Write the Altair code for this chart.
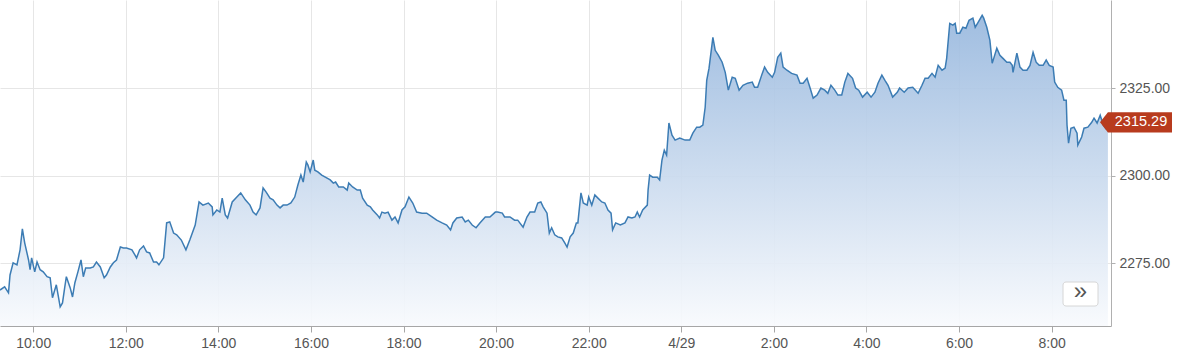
import altair as alt
import pandas as pd

# minutes after 2024-04-28 09:17 (chart window = 24 hours)
minutes = [
    0, 6, 11, 13, 17, 22, 26, 29, 32, 37, 39, 41, 45, 48, 52, 56, 61, 65, 68, 73,
    78, 81, 84, 86, 91, 94, 97, 101, 105, 108, 111, 117, 121, 125, 130, 135, 138, 143, 147, 151,
    156, 160, 164, 171, 175, 177, 181, 186, 190, 194, 199, 203, 206, 212, 216, 220, 225, 229, 235, 241,
    246, 253, 258, 263, 270, 275, 276, 281, 285, 288, 292, 295, 301, 307, 312, 318, 324, 328, 332, 337,
    341, 345, 350, 354, 359, 363, 367, 372, 377, 382, 386, 390, 393, 397, 399, 402, 406, 408, 412, 417,
    424, 428, 432, 435, 439, 445, 450, 452, 457, 463, 467, 470, 476, 480, 483, 489, 492, 495, 499, 503,
    508, 512, 516, 521, 525, 530, 535, 540, 547, 553, 560, 566, 573, 579, 584, 587, 592, 599, 603, 607,
    612, 617, 622, 629, 635, 642, 645, 651, 654, 661, 667, 671, 678, 683, 687, 693, 697, 701, 704, 709,
    712, 715, 719, 723, 728, 732, 735, 739, 743, 747, 749, 753, 756, 761, 763, 767, 771, 775, 780, 784,
    788, 792, 794, 798, 804, 810, 814, 819, 823, 826, 829, 833, 839, 840, 842, 846, 852, 855, 858, 861,
    864, 867, 871, 875, 881, 888, 894, 898, 903, 907, 911, 914, 916, 919, 924, 927, 931, 936, 940, 944,
    949, 953, 958, 963, 969, 975, 978, 982, 988, 991, 995, 1001, 1004, 1008, 1012, 1015, 1020, 1026, 1033, 1037,
    1041, 1046, 1050, 1054, 1059, 1064, 1069, 1073, 1077, 1082, 1086, 1091, 1095, 1099, 1105, 1109, 1113, 1118, 1124, 1129,
    1134, 1138, 1143, 1147, 1151, 1157, 1163, 1166, 1172, 1177, 1183, 1190, 1195, 1199, 1203, 1208, 1212, 1216, 1221, 1225,
    1227, 1231, 1235, 1238, 1240, 1244, 1248, 1252, 1256, 1261, 1264, 1267, 1273, 1275, 1279, 1283, 1286, 1288, 1292, 1296,
    1300, 1305, 1309, 1312, 1313, 1318, 1322, 1326, 1331, 1335, 1339, 1343, 1347, 1352, 1356, 1360, 1365, 1367, 1371, 1376,
    1379, 1382, 1383, 1385, 1388, 1392, 1396, 1397, 1402, 1405, 1410, 1415, 1418, 1422, 1426, 1430, 1433, 1436,
]

prices = [
    2267.3, 2268.2, 2266.5, 2271.6, 2275.1, 2274.5, 2278.8, 2284.8, 2280.8, 2275.9, 2273.1, 2276.5, 2272.5, 2275.3, 2273.1, 2272.5, 2271.1, 2270.8, 2265.1, 2268.8,
    2262.5, 2263.6, 2268.2, 2271.1, 2267.9, 2265.3, 2269.3, 2272.5, 2275.9, 2271.1, 2273.6, 2273.6, 2273.9, 2275.3, 2273.9, 2270.8, 2271.6, 2273.9, 2275.1, 2275.9,
    2279.6, 2279.3, 2279.3, 2278.8, 2277.3, 2276.5, 2278.8, 2279.9, 2278.2, 2277.9, 2275.3, 2275.3, 2274.5, 2276.5, 2286.5, 2286.8, 2283.6, 2283.1, 2281.6, 2278.8,
    2281.6, 2285.9, 2292.5, 2291.6, 2292.2, 2291.1, 2288.8, 2290.2, 2289.6, 2293.6, 2288.8, 2287.9, 2292.5, 2293.9, 2295.1, 2293.1, 2291.6, 2289.6, 2288.8, 2290.8,
    2296.5, 2295.3, 2293.6, 2293.1, 2291.6, 2290.8, 2291.6, 2291.6, 2292.2, 2293.9, 2297.3, 2300.2, 2298.2, 2303.9, 2303.1, 2301.1, 2304.5, 2301.6, 2301.1, 2300.2,
    2299.3, 2298.8, 2297.9, 2298.2, 2296.8, 2296.8, 2295.9, 2297.9, 2296.8, 2295.9, 2295.9, 2293.6, 2291.6, 2291.1, 2290.2, 2288.8, 2287.9, 2289.6, 2289.3, 2289.6,
    2287.3, 2288.2, 2286.5, 2290.2, 2291.1, 2293.9, 2292.2, 2289.6, 2289.3, 2289.3, 2288.2, 2287.3, 2286.5, 2285.9, 2284.5, 2286.5, 2287.9, 2288.2, 2286.8, 2287.3,
    2285.9, 2285.1, 2286.5, 2288.2, 2288.2, 2289.6, 2289.6, 2289.3, 2288.2, 2288.2, 2287.3, 2287.3, 2285.3, 2288.2, 2289.6, 2289.6, 2292.2, 2292.5, 2291.1, 2289.3,
    2283.6, 2285.1, 2283.1, 2282.5, 2282.2, 2280.8, 2279.6, 2282.5, 2283.6, 2286.5, 2286.5, 2295.1, 2292.2, 2291.6, 2293.9, 2291.6, 2294.5, 2293.6, 2292.5, 2292.2,
    2290.2, 2289.3, 2284.5, 2286.5, 2285.9, 2286.5, 2288.2, 2287.9, 2288.2, 2289.6, 2288.2, 2290.2, 2291.6, 2295.9, 2300.2, 2299.6, 2299.6, 2298.8, 2304.5, 2307.3,
    2305.9, 2315.1, 2311.6, 2310.2, 2310.8, 2310.2, 2310.2, 2312.2, 2313.9, 2313.9, 2314.5, 2319.6, 2327.3, 2330.8, 2339.6, 2335.9, 2334.5, 2332.5, 2329.6, 2324.5,
    2328.2, 2327.9, 2324.5, 2325.9, 2326.5, 2326.8, 2325.3, 2325.3, 2329.3, 2331.1, 2329.6, 2328.2, 2329.6, 2333.9, 2335.1, 2331.1, 2330.2, 2329.3, 2328.8, 2326.5,
    2326.5, 2327.9, 2325.1, 2322.2, 2323.1, 2325.1, 2324.5, 2323.6, 2325.9, 2324.5, 2323.1, 2323.1, 2326.8, 2329.3, 2327.9, 2325.1, 2324.5, 2322.5, 2323.9, 2322.5,
    2323.9, 2326.5, 2328.8, 2327.3, 2325.9, 2322.5, 2323.9, 2325.1, 2323.9, 2325.1, 2325.3, 2323.6, 2325.9, 2327.9, 2327.9, 2329.3, 2328.2, 2331.6, 2330.2, 2330.8,
    2333.6, 2343.6, 2343.1, 2343.6, 2340.8, 2340.8, 2342.5, 2342.2, 2344.5, 2345.1, 2342.5, 2343.6, 2345.9, 2345.1, 2342.5, 2338.8, 2332.2, 2333.6, 2336.5, 2334.5,
    2333.6, 2332.5, 2332.5, 2331.6, 2329.6, 2335.1, 2331.1, 2330.2, 2330.2, 2331.6, 2335.3, 2332.5, 2331.6, 2331.6, 2333.1, 2331.6, 2331.1, 2326.8, 2325.3, 2324.5,
    2321.6, 2321.6, 2314.5, 2309.3, 2313.6, 2313.9, 2312.2, 2308.8, 2311.1, 2313.6, 2313.9, 2315.3, 2316.5, 2315.1, 2317.3, 2314.5, 2313.6, 2315.29,
]

x_tick_hours_day1 = [10, 12, 14, 16, 18, 20, 22]
x_tick_hours_day2 = [0, 2, 4, 6, 8]
y_ticks = [2275, 2300, 2325]
y_domain = [2257.0, 2350.3]
button_symbol = ["»"]

start = pd.Timestamp("2024-04-28 09:17")
df = pd.DataFrame({
    "time": [start + pd.Timedelta(minutes=m) for m in minutes],
    "price": prices,
})

tag_df = pd.DataFrame({"price": [prices[-1]], "label": [f"{prices[-1]:.2f}"]})
btn_df = pd.DataFrame({"s": button_symbol})

x_ticks = [alt.DateTime(year=2024, month=4, date=28, hours=h) for h in x_tick_hours_day1] + \
          [alt.DateTime(year=2024, month=4, date=29, hours=h) for h in x_tick_hours_day2]

x_scale = alt.Scale(
    domain=[alt.DateTime(year=2024, month=4, date=28, hours=9, minutes=17),
            alt.DateTime(year=2024, month=4, date=29, hours=9, minutes=17)],
    nice=False,
)
y_scale = alt.Scale(domain=y_domain, zero=False, nice=False)

x_axis = alt.Axis(
    values=x_ticks,
    labelExpr="hours(datum.value) == 0 ? timeFormat(datum.value, '%-m/%-d') : timeFormat(datum.value, '%-H:%M')",
    title=None, grid=True, gridColor="#e6e6e6", gridWidth=1,
    domainColor="#a6a6a6", tickColor="#a6a6a6", tickSize=6,
    labelFont="Liberation Sans", labelFontSize=14, labelColor="#555555",
    labelPadding=4, labelFlush=False,
)
y_axis = alt.Axis(
    orient="right", values=y_ticks, format=".2f",
    title=None, grid=True, gridColor="#e6e6e6", gridWidth=1,
    domainColor="#b0b0b0", tickColor="#b0b0b0", tickSize=4,
    labelFont="Liberation Sans", labelFontSize=14, labelColor="#555555",
    labelPadding=4,
)

gradient = alt.Gradient(
    gradient="linear",
    stops=[alt.GradientStop(color="#98b8de", offset=0),
           alt.GradientStop(color="#f8fafd", offset=1)],
    x1=1, x2=1, y1=0, y2=1,
)

X = alt.X("time:T", scale=x_scale, axis=x_axis)
Y = alt.Y("price:Q", scale=y_scale, axis=y_axis)

area = alt.Chart(df).mark_area(
    fill=gradient, fillOpacity=0.92, interpolate="linear", clip=True,
).encode(x=X, y=Y, y2=alt.datum(y_domain[0]))

line = alt.Chart(df).mark_line(
    color="#3c7cb4", strokeWidth=1.5, interpolate="linear", clip=True,
).encode(x=X, y=Y)

tag = alt.Chart(tag_df).mark_point(
    shape="M -1 0 L -0.78 -0.28 L 1 -0.28 L 1 0.28 L -0.78 0.28 Z",
    size=5184, filled=True, color="#b83b1e", opacity=1,
).encode(x=alt.value(1136), y=Y)

tag_text = alt.Chart(tag_df).mark_text(
    color="white", fontSize=14.5, font="Liberation Sans", align="center", baseline="middle",
).encode(x=alt.value(1141), y=Y, text="label:N")

btn = alt.Chart(btn_df).mark_rect(
    fill="white", stroke="#d6d6d6", strokeWidth=1, cornerRadius=3,
).encode(
    x=alt.value(1063), x2=alt.value(1098), y=alt.value(282), y2=alt.value(306),
)

btn_text = alt.Chart(btn_df).mark_text(
    fontSize=24, color="#555555", font="Liberation Sans", align="center", baseline="middle",
).encode(
    x=alt.value(1080.5), y=alt.value(292), text="s:N",
)

chart = alt.layer(area, line, tag, tag_text, btn, btn_text).properties(
    width=1111, height=326, padding=0, background="white",
).configure_view(strokeWidth=0)

chart.save("out.html", embed_options={"renderer": "svg", "actions": False})
